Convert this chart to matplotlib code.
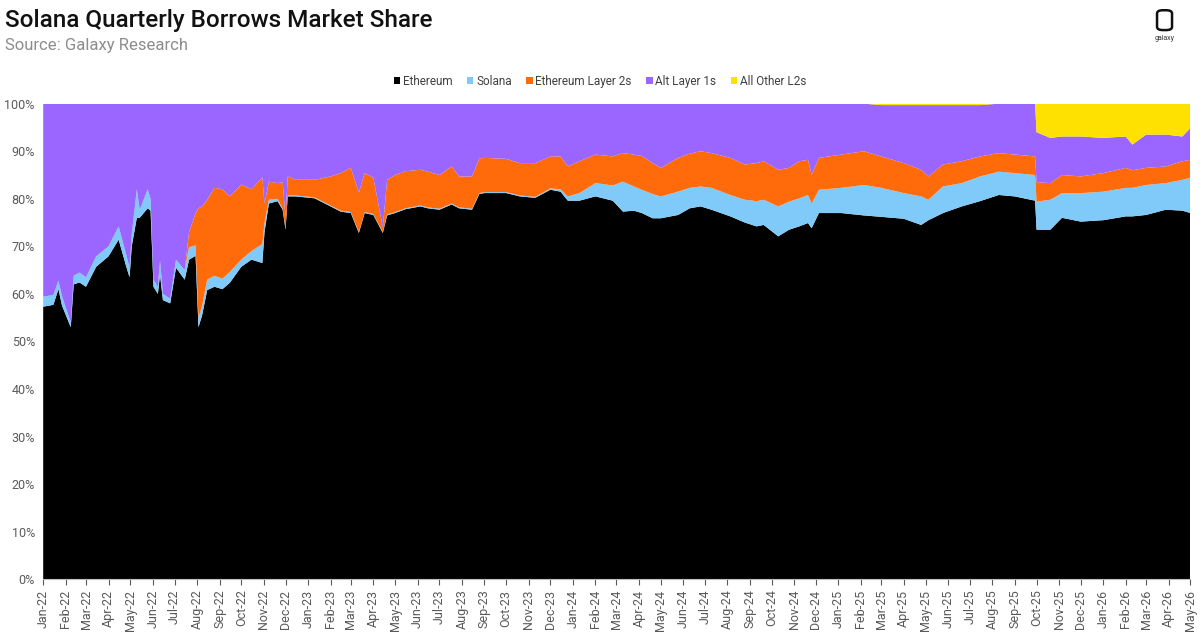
import numpy as np
import pandas as pd
import matplotlib
matplotlib.use("Agg")
import matplotlib.pyplot as plt
import matplotlib.dates as mdates
from matplotlib.ticker import MultipleLocator, FuncFormatter
from matplotlib.patches import FancyBboxPatch

# sampled dates (irregular where the chart jumps)
dates = [
    "2022-01-01", "2022-01-15", "2022-01-22", "2022-01-27", "2022-02-08", "2022-02-12",
    "2022-02-20", "2022-03-01", "2022-03-15", "2022-04-01", "2022-04-15", "2022-04-25",
    "2022-04-30", "2022-05-03", "2022-05-10", "2022-05-14", "2022-05-25", "2022-05-29",
    "2022-06-02", "2022-06-08", "2022-06-11", "2022-06-15", "2022-06-25", "2022-07-03",
    "2022-07-15", "2022-07-21", "2022-07-30", "2022-08-03", "2022-08-08", "2022-08-15",
    "2022-08-25", "2022-09-05", "2022-09-15", "2022-10-01", "2022-10-15", "2022-10-30",
    "2022-11-02", "2022-11-08", "2022-11-20", "2022-11-27", "2022-12-01", "2022-12-04",
    "2022-12-15", "2023-01-10", "2023-02-01", "2023-02-15", "2023-03-01", "2023-03-12",
    "2023-03-20", "2023-04-01", "2023-04-14", "2023-04-20", "2023-05-01", "2023-05-15",
    "2023-06-05", "2023-06-15", "2023-07-01", "2023-07-18", "2023-07-28", "2023-08-15",
    "2023-08-25", "2023-09-01", "2023-10-01", "2023-10-20", "2023-11-10", "2023-12-01",
    "2023-12-15", "2023-12-25", "2024-01-10", "2024-02-01", "2024-02-25", "2024-03-10",
    "2024-03-25", "2024-04-05", "2024-04-20", "2024-05-01", "2024-05-25", "2024-06-10",
    "2024-06-25", "2024-07-10", "2024-08-05", "2024-08-25", "2024-09-10", "2024-09-20",
    "2024-10-10", "2024-10-25", "2024-11-08", "2024-11-20", "2024-11-25", "2024-12-05",
    "2025-01-05", "2025-02-05", "2025-03-01", "2025-04-01", "2025-04-25", "2025-05-05",
    "2025-05-25", "2025-06-20", "2025-07-15", "2025-08-10", "2025-09-01", "2025-09-29",
    "2025-10-01", "2025-10-20", "2025-11-05", "2025-12-01", "2026-01-01", "2026-02-01",
    "2026-02-10", "2026-03-01", "2026-03-28", "2026-04-20", "2026-05-01",
]

ethereum = [
    57.3, 57.7, 61.0, 57.5, 53.0, 62.0, 62.4, 61.5, 65.7, 67.9, 71.4, 66.0,
    63.5, 70.0, 76.0, 76.0, 78.0, 77.5, 61.5, 60.0, 64.0, 58.7, 58.0, 65.5,
    63.0, 67.2, 68.0, 53.0, 55.5, 60.8, 61.5, 61.0, 62.3, 65.7, 67.2, 66.5,
    73.0, 79.0, 79.5, 77.7, 73.5, 80.5, 80.5, 80.1, 78.4, 77.3, 77.0, 72.8,
    77.0, 76.6, 72.8, 76.5, 77.0, 77.8, 78.4, 78.0, 77.7, 78.8, 78.0, 77.7,
    81.0, 81.2, 81.2, 80.5, 80.2, 81.9, 81.5, 79.6, 79.6, 80.5, 79.6, 77.3,
    77.5, 77.0, 75.9, 75.9, 76.6, 78.0, 78.4, 77.7, 76.3, 75.0, 74.2, 74.5,
    72.1, 73.5, 74.2, 74.9, 73.8, 77.0, 77.0, 76.5, 76.2, 75.8, 74.5, 75.5,
    77.0, 78.4, 79.5, 80.8, 80.5, 79.6, 73.5, 73.5, 76.0, 75.2, 75.5, 76.3,
    76.3, 76.6, 77.7, 77.5, 77.0,
]

solana = [
    2.1, 2.1, 1.8, 2.0, 1.0, 1.8, 2.1, 2.0, 2.2, 2.1, 2.8, 2.5,
    2.0, 2.5, 6.0, 1.7, 4.0, 2.5, 1.5, 1.5, 3.0, 1.3, 1.0, 1.7,
    2.0, 2.6, 2.2, 2.0, 2.0, 2.2, 2.3, 2.2, 2.3, 1.5, 1.8, 4.0,
    2.0, 0.8, 0.5, 0.2, 0.2, 0.2, 0.2, 0.2, 0.2, 0.2, 0.2, 0.2,
    0.2, 0.2, 0.2, 0.2, 0.2, 0.2, 0.2, 0.2, 0.2, 0.2, 0.2, 0.2,
    0.2, 0.2, 0.2, 0.2, 0.2, 0.3, 0.5, 0.9, 1.6, 2.8, 3.2, 6.3,
    5.1, 4.9, 5.1, 4.6, 4.9, 4.3, 4.2, 4.6, 4.5, 4.8, 5.3, 5.3,
    6.3, 5.9, 5.9, 5.9, 5.2, 4.9, 5.3, 6.4, 6.1, 5.4, 6.0, 4.3,
    5.6, 4.9, 5.2, 4.9, 4.9, 5.4, 5.9, 6.3, 5.2, 6.0, 6.0, 6.0,
    6.0, 6.3, 5.6, 6.5, 7.4,
]

eth_layer2s = [
    0.0, 0.0, 0.0, 0.0, 0.0, 0.0, 0.0, 0.0, 0.0, 0.0, 0.0, 0.0,
    0.0, 0.0, 0.0, 0.0, 0.0, 0.0, 0.0, 0.0, 0.0, 0.0, 0.0, 0.0,
    0.0, 3.2, 6.8, 23.0, 20.9, 16.8, 18.5, 18.8, 15.9, 15.8, 13.0, 14.0,
    4.0, 3.8, 3.3, 5.6, 2.3, 4.0, 3.3, 3.7, 6.1, 7.9, 9.3, 8.3,
    8.2, 7.6, 1.0, 7.3, 7.8, 7.8, 7.5, 7.5, 7.1, 7.8, 6.5, 6.8,
    7.3, 7.2, 7.0, 6.8, 7.1, 6.7, 6.9, 6.3, 6.7, 6.0, 6.1, 6.0,
    6.7, 7.1, 6.5, 6.0, 7.1, 7.2, 7.4, 7.3, 7.8, 7.4, 8.0, 8.1,
    7.7, 7.1, 7.8, 7.4, 6.0, 6.7, 7.0, 7.1, 6.6, 6.3, 5.6, 4.9,
    4.6, 4.6, 4.2, 3.9, 3.9, 3.9, 4.1, 3.5, 3.8, 3.5, 3.9, 4.2,
    3.7, 3.6, 3.5, 3.9, 3.8,
]

alt_layer1s = [
    40.6, 40.2, 37.2, 40.5, 46.0, 36.2, 35.5, 36.5, 32.1, 30.0, 25.8, 31.5,
    34.5, 27.5, 18.0, 22.3, 18.0, 20.0, 37.0, 38.5, 33.0, 40.0, 41.0, 32.8,
    35.0, 27.0, 23.0, 22.0, 21.6, 20.2, 17.7, 18.0, 19.5, 17.0, 18.0, 15.5,
    21.0, 16.4, 16.7, 16.5, 24.0, 15.3, 16.0, 16.0, 15.3, 14.6, 13.5, 18.7,
    14.6, 15.6, 26.0, 16.0, 15.0, 14.2, 13.9, 14.3, 15.0, 13.2, 15.3, 15.3,
    11.5, 11.4, 11.6, 12.5, 12.5, 11.1, 11.1, 13.2, 12.1, 10.7, 11.1, 10.4,
    10.7, 11.0, 12.5, 13.5, 11.4, 10.5, 10.0, 10.4, 11.4, 12.8, 12.5, 12.1,
    13.9, 13.5, 12.1, 11.8, 15.0, 11.4, 10.7, 10.0, 10.8, 12.2, 13.6, 15.0,
    12.5, 11.8, 10.8, 10.4, 10.7, 11.1, 10.5, 9.5, 8.1, 8.4, 7.4, 6.6,
    5.4, 7.0, 6.7, 5.2, 6.7,
]

other_l2s = [
    0.0, 0.0, 0.0, 0.0, 0.0, 0.0, 0.0, 0.0, 0.0, 0.0, 0.0, 0.0,
    0.0, 0.0, 0.0, 0.0, 0.0, 0.0, 0.0, 0.0, 0.0, 0.0, 0.0, 0.0,
    0.0, 0.0, 0.0, 0.0, 0.0, 0.0, 0.0, 0.0, 0.0, 0.0, 0.0, 0.0,
    0.0, 0.0, 0.0, 0.0, 0.0, 0.0, 0.0, 0.0, 0.0, 0.0, 0.0, 0.0,
    0.0, 0.0, 0.0, 0.0, 0.0, 0.0, 0.0, 0.0, 0.0, 0.0, 0.0, 0.0,
    0.0, 0.0, 0.0, 0.0, 0.0, 0.0, 0.0, 0.0, 0.0, 0.0, 0.0, 0.0,
    0.0, 0.0, 0.0, 0.0, 0.0, 0.0, 0.0, 0.0, 0.0, 0.0, 0.0, 0.0,
    0.0, 0.0, 0.0, 0.0, 0.0, 0.0, 0.0, 0.0, 0.3, 0.3, 0.3, 0.3,
    0.3, 0.3, 0.3, 0.0, 0.0, 0.0, 6.0, 7.2, 6.9, 6.9, 7.2, 6.9,
    8.6, 6.5, 6.5, 6.9, 5.1,
]

labels = ["Ethereum", "Solana", "Ethereum Layer 2s", "Alt Layer 1s", "All Other L2s"]
colors = ["#000000", "#7fcaf8", "#ff6a0a", "#9a66ff", "#ffe100"]

plt.rcParams['font.family'] = ['Roboto', 'DejaVu Sans']

x = pd.to_datetime(dates)

fig = plt.figure(figsize=(12, 6.4), dpi=100)
ax = fig.add_axes([0.036, 0.095, 0.956, 0.743])

ax.stackplot(x, ethereum, solana, eth_layer2s, alt_layer1s, other_l2s,
             colors=colors, labels=labels, linewidth=0)

ax.set_xlim(pd.Timestamp("2022-01-01"), pd.Timestamp("2026-05-01"))
ax.set_ylim(0, 100)
ax.yaxis.set_major_locator(MultipleLocator(10))
ax.yaxis.set_major_formatter(FuncFormatter(lambda v, p: f"{v:.0f}%"))
ax.xaxis.set_major_locator(mdates.MonthLocator())
ax.xaxis.set_major_formatter(mdates.DateFormatter("%b-%y"))
plt.setp(ax.get_xticklabels(), rotation=90)

ax.tick_params(axis='x', labelsize=9, colors='#595959', length=4, width=0.8)
ax.tick_params(axis='y', labelsize=9, colors='#595959', length=0, pad=6)
for s in ['top', 'right', 'left']:
    ax.spines[s].set_visible(False)
ax.spines['bottom'].set_color('#bfbfbf')

leg = fig.legend(loc='center', bbox_to_anchor=(0.5, 0.873), ncol=5, frameon=False,
                 fontsize=8.5, handlelength=0.55, handleheight=0.55, handletextpad=0.25,
                 columnspacing=1.2)
for t in leg.get_texts():
    t.set_color('#404040')

fig.text(0.004, 0.968, "Solana Quarterly Borrows Market Share", fontsize=17.5,
         weight='medium', color='#111111', va='center', ha='left')
fig.text(0.004, 0.929, "Source: Galaxy Research", fontsize=12,
         color='#8c8c8c', va='center', ha='left')

# galaxy mark
logo = FancyBboxPatch((0.9642, 0.953), 0.0125, 0.031, boxstyle="round,pad=0,rounding_size=0.005",
                      transform=fig.transFigure, fill=False, edgecolor='#111111', linewidth=1.8)
fig.patches.append(logo)
fig.text(0.9705, 0.940, "galaxy", fontsize=5, color='#333333', ha='center', va='center')

fig.savefig("out.png", dpi=100)
